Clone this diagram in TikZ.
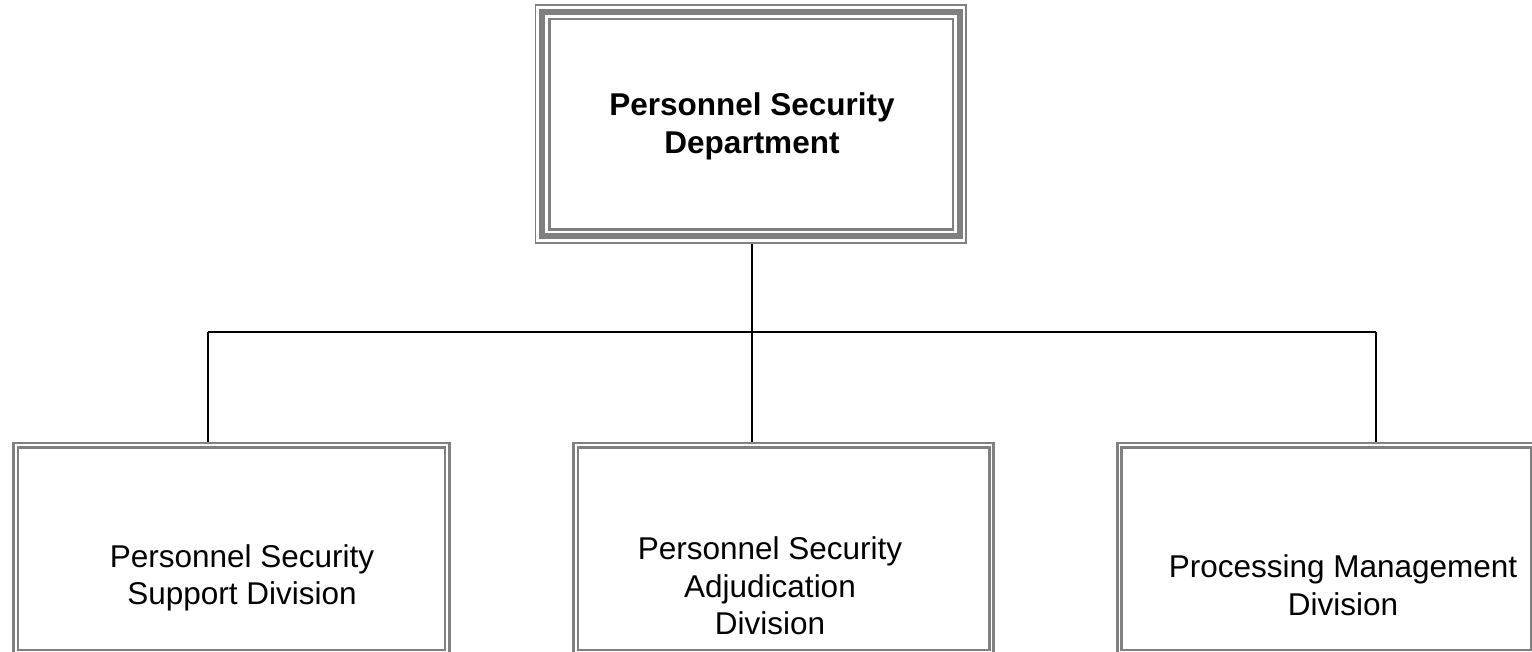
\documentclass[tikz,border=0pt]{standalone}
\usepackage{fontspec}
\setmainfont{Liberation Sans}
\usepackage{tikz}
\usetikzlibrary{positioning,calc}
\usepackage{xcolor}
\definecolor{framegray}{RGB}{128,128,128}

\begin{document}
\begin{tikzpicture}[x=0.5pt, y=-0.5pt,
    headbox/.style={rectangle, draw=framegray, line width=3pt,
        minimum width=208.85pt, minimum height=112pt, inner sep=0pt, outer sep=0pt},
    thinframe/.style={draw=framegray, line width=0.9pt},
    divbox/.style={rectangle, draw=framegray, line width=1.4pt, double=white,
        double distance=0.75pt, minimum height=103.5pt, inner sep=0pt, outer sep=1.75pt},
    divtext/.style={align=center, font=\fontsize{15.75}{18.75}\selectfont},
    headtext/.style={align=center, font=\fontsize{15.75}{19}\selectfont\bfseries},
    conn/.style={draw=black, line width=1pt}
]
    \useasboundingbox (0,0) rectangle (1532,652);

    % Department
    \node[headbox] (dept) at (750.9,124.3) {};
    \draw[thinframe] ([xshift=-3.3pt,yshift=3.6pt]dept.north west)
        rectangle ([xshift=3.2pt,yshift=-3.3pt]dept.south east);
    \draw[thinframe, line width=1.25pt] ([xshift=3.8pt,yshift=-3.3pt]dept.north west)
        rectangle ([xshift=-3.4pt,yshift=3.4pt]dept.south east);
    \node[headtext] (depttxt) at (752,126) {Personnel Security\\Department};

    % Divisions
    \node[divbox, minimum width=215.6pt] (support) at (231.5,548.7) {};
    \node[divbox, minimum width=207.85pt] (adjud) at (783.6,548.7) {};
    \node[divbox, minimum width=206.85pt] (procmgmt) at (1326.4,548.7) {};

    \node[divtext] (supporttxt) at (242,578) {Personnel Security\\Support Division};
    \node[divtext] (adjudtxt) at (770,586) {Personnel Security\\Adjudication\\Division};
    \node[divtext] (procmgmttxt) at (1343,585) {Processing Management\\Division};

    % Connectors
    \coordinate (junc) at (751.8,332.5);
    \coordinate (juncL) at (207.5,332.5);
    \coordinate (juncR) at (1375.5,332.5);
    \draw[conn] ([yshift=-3.8pt]dept.south -| junc) -- (junc);
    \draw[conn] (juncL) -- (juncR);
    \draw[conn] (juncL) -- (juncL |- support.north);
    \draw[conn] (junc) -- (junc |- adjud.north);
    \draw[conn] (juncR) -- (juncR |- procmgmt.north);
\end{tikzpicture}
\end{document}
